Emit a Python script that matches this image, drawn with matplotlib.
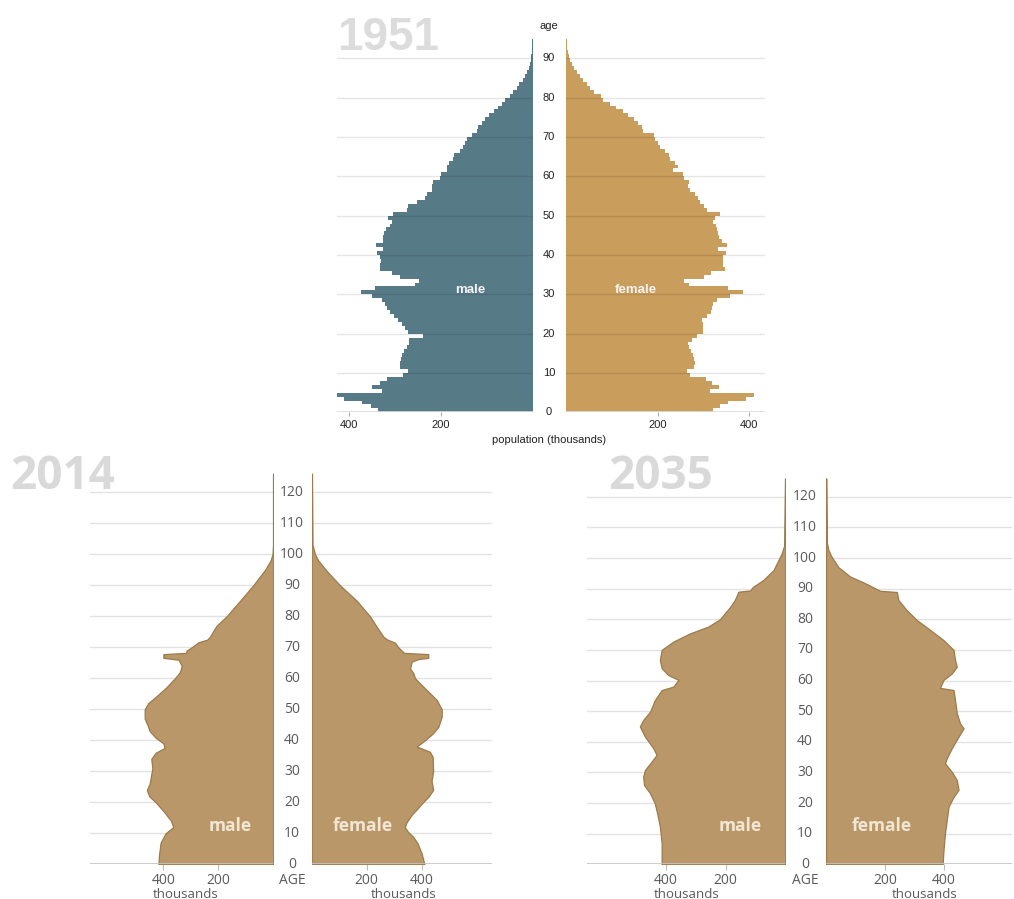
import matplotlib
matplotlib.use("Agg")
import matplotlib.pyplot as plt
from matplotlib.transforms import blended_transform_factory as btf

# ---------------- data ----------------
# 1951, single-year ages (thousands)
male_1951 = [338, 353, 373, 411, 429, 329, 351, 333, 317, 282,
             273, 289, 289, 288, 286, 281, 275, 269, 269, 239,
             271, 279, 286, 293, 303, 311, 317, 322, 329, 351,
             375, 344, 257, 247, 289, 308, 333, 333, 332, 333,
             340, 327, 342, 326, 326, 324, 320, 311, 308, 315,
             305, 275, 273, 253, 235, 231, 220, 220, 218, 202,
             199, 188, 188, 182, 173, 171, 159, 153, 148, 144,
             133, 122, 119, 111, 104, 95, 84, 75, 68, 60,
             49, 44, 35, 29, 22, 17, 12, 8, 6, 4,
             3, 2, 1.5, 1, 0.7, 0.4]
female_1951 = [321, 336, 354, 393, 409, 314, 334, 319, 305, 271,
               263, 279, 282, 279, 276, 273, 268, 267, 274, 285,
               298, 298, 298, 297, 307, 316, 318, 321, 329, 358,
               385, 353, 268, 257, 300, 316, 347, 343, 342, 342,
               348, 332, 352, 340, 334, 332, 329, 327, 321, 325,
               336, 307, 300, 292, 287, 281, 271, 267, 269, 257,
               256, 234, 244, 238, 227, 225, 216, 205, 201, 194,
               191, 169, 165, 158, 149, 136, 125, 109, 96, 81,
               76, 60, 52, 45, 38, 31, 23, 17, 12, 9,
               7, 4, 3, 2, 1.5, 1, 0.7, 0.5, 0.3, 0.2]

# 2014 (outline points)
m2014_age = [0, 3, 7, 10, 12, 14, 17, 20, 22, 24, 26, 29, 31, 34, 36, 37.5, 39, 41, 43,
             45, 47, 50, 52, 54, 57, 60, 62, 64, 66, 66.6, 67.8, 68.2, 69, 70, 71.6,
             72.5, 73.5, 75, 77, 80, 85, 90, 95, 98, 100, 103, 126]
m2014_val = [418, 416, 410, 392, 364, 372, 398, 428, 452, 460, 450, 444, 440, 444, 428, 396,
             400, 430, 450, 458, 468, 468, 455, 428, 390, 358, 340, 333, 345, 400, 400, 318,
             315, 297, 273, 240, 230, 220, 206, 170, 121, 73, 30, 10, 3, 1, 1]
f2014_age = [0, 3.5, 6.8, 9, 10.5, 12, 13.5, 16, 18, 20, 21.8, 24, 27, 30, 34.7, 36.3, 38,
             40, 42.3, 44.4, 47.6, 50, 53, 55.2, 57.3, 60, 61.6, 63.2, 65.4, 66.2, 66.6,
             67.8, 68.2, 70, 71.5, 72.5, 73.4, 76.7, 80, 85, 90, 94, 96, 98, 100, 103, 126]
f2014_val = [410, 400, 385, 368, 350, 339, 345, 364, 385, 405, 425, 442, 436, 442, 440, 430,
             382, 412, 442, 461, 473, 473, 455, 430, 406, 376, 370, 358, 364, 388, 424,
             424, 336, 315, 303, 275, 261, 236, 212, 164, 103, 61, 42, 24, 12, 3, 1]

# 2035 projection
m2035_age = [0, 6.9, 12.3, 16.6, 19.9, 23.2, 25.9, 28.6, 30.8, 33.5, 35.7, 37.9, 41.7, 45,
             47.1, 49.8, 53.6, 56.9, 58, 60.2, 61.8, 64, 66.7, 70, 72.7, 75.4, 77.6, 80,
             84, 86.3, 89, 89.4, 90.6, 92.8, 96, 99.3, 101.5, 104, 126]
m2035_val = [414, 414, 420, 429, 437, 453, 473, 476, 470, 448, 431, 442, 470, 487,
             476, 453, 437, 414, 375, 358, 392, 414, 420, 414, 375, 319, 258, 219,
             185, 169, 157, 118, 108, 74, 40, 23, 12, 4, 1]
f2035_age = [0, 4.7, 10.1, 14.5, 18.8, 22, 24.3, 27.5, 30.2, 33, 34.6, 37.9, 41.7, 44.4,
             46, 49.3, 53.6, 56.9, 57.6, 60.2, 62.3, 64.5, 66.7, 70, 73.2, 76.5, 79.8,
             83, 86.3, 88.9, 89.3, 91.8, 94, 97, 100.4, 102.6, 105, 126]
f2035_val = [395, 398, 403, 409, 415, 432, 449, 443, 426, 403, 409, 426, 449, 466,
             454, 443, 437, 432, 386, 398, 426, 443, 437, 432, 398, 353, 307,
             273, 245, 240, 183, 132, 81, 42, 19, 8, 3, 1]

ages_1951_ticks = list(range(0, 100, 10))
ages_modern_ticks = list(range(0, 130, 10))

# ---------------- layout helpers ----------------
W, H = 1014, 899
fig = plt.figure(figsize=(W / 100, H / 100), dpi=100)


def rect(x0, x1, ytop, ybot):
    return [x0 / W, 1 - ybot / H, (x1 - x0) / W, (ybot - ytop) / H]


def ftext(x, y, s, **kw):
    fig.text(x / W, 1 - y / H, s, **kw)


ARIAL = "Liberation Sans"
OPEN = "Open Sans"

# ---------------- 1951 ----------------
c_m51 = "#577a87"
c_f51 = "#c99d5c"
y0_51, ppy_51 = 412.3, 3.933
ytop_51 = y0_51 - 100 * ppy_51

ax_m51 = fig.add_axes(rect(337, 532.7, ytop_51, y0_51))
ax_f51 = fig.add_axes(rect(566, 765, ytop_51, y0_51))

ax_m51.barh(range(len(male_1951)), male_1951, height=1.0, align="edge",
            color=c_m51, linewidth=0, zorder=2)
ax_f51.barh(range(len(female_1951)), female_1951, height=1.0, align="edge",
            color=c_f51, linewidth=0, zorder=2)

ax_m51.set_xlim(427, 0)
ax_f51.set_xlim(0, 434)
for ax, ticks in ((ax_m51, [400, 200]), (ax_f51, [200, 400])):
    ax.set_ylim(0, 100)
    for a in ages_1951_ticks[1:]:
        ax.axhline(a, color="black", alpha=0.1, lw=1, zorder=3)
    ax.axhline(0, color="#dddddd", lw=1.2, zorder=3)
    for s in ax.spines.values():
        s.set_visible(False)
    ax.set_yticks([])
    ax.set_xticks(ticks)
    ax.set_xticklabels([str(t) for t in ticks], fontfamily=ARIAL)
    ax.tick_params(axis="x", length=3, width=0.8, color="#aaaaaa", labelsize=8,
                   labelcolor="#222222", pad=2.5)
    ax.set_facecolor("none")

tr51 = btf(fig.transFigure, ax_f51.transData)
for a in ages_1951_ticks:
    fig.text(549 / W, a, str(a), transform=tr51, ha="center", va="center",
             fontsize=8, color="#222222", fontfamily=ARIAL)
ftext(549, 26, "age", ha="center", va="center", fontsize=8, color="#222222",
      fontfamily=ARIAL)
ftext(549, 440, "population (thousands)", ha="center", va="center", fontsize=8,
      color="#222222", fontfamily=ARIAL)
ax_m51.text(137, 31, "male", ha="center", va="center", fontsize=9.5, color="#f4f4f4",
            fontweight="bold", fontfamily=ARIAL, zorder=4)
ax_f51.text(153, 31, "female", ha="center", va="center", fontsize=9.5, color="#f4f4f4",
            fontweight="bold", fontfamily=ARIAL, zorder=4)
ftext(388, 38, "1951", ha="center", va="center", fontsize=33, fontweight="bold",
      color="#dcdcdc", fontfamily=ARIAL)

# ---------------- 2014 and 2035 ----------------
c_fill = "#b99768"
c_edge = "#9c7b4b"
grid_c = "#e2e2e2"


def modern(xm0, xm1, xmax_m, xf0, xf1, xmax_f, ppy, mage, mval, fage, fval,
           label_x, title, title_x, lab_m, lab_f, thous_m, thous_f):
    y0 = 864.3
    ytop = y0 - 127 * ppy
    axm = fig.add_axes(rect(xm0, xm1, ytop, y0))
    axf = fig.add_axes(rect(xf0, xf1, ytop, y0))
    axm.fill_betweenx(mage, 0, mval, facecolor=c_fill, edgecolor=c_edge, lw=0.9, zorder=2)
    axf.fill_betweenx(fage, 0, fval, facecolor=c_fill, edgecolor=c_edge, lw=0.9, zorder=2)
    axm.set_xlim(xmax_m, 0)
    axf.set_xlim(0, xmax_f)
    for ax, ticks in ((axm, [400, 200]), (axf, [200, 400])):
        ax.set_ylim(0, 127)
        for a in ages_modern_ticks[1:]:
            ax.axhline(a, color=grid_c, lw=1, zorder=1)
        ax.axhline(0, color="#c4c4c4", lw=1.2, zorder=3)
        for s in ax.spines.values():
            s.set_visible(False)
        ax.set_yticks([])
        ax.set_xticks(ticks)
        ax.set_xticklabels([str(t) for t in ticks], fontfamily=OPEN)
        ax.tick_params(axis="x", length=4, width=0.8, color="#bbbbbb", labelsize=10,
                       labelcolor="#5a5a5a", pad=2.5)
        ax.set_facecolor("none")
    tr = btf(fig.transFigure, axf.transData)
    for a in ages_modern_ticks:
        fig.text(label_x / W, a, str(a), transform=tr, ha="center", va="center",
                 fontsize=10, color="#5a5a5a", fontfamily=OPEN)
    ftext(label_x, 881, "AGE", ha="center", va="center", fontsize=10, color="#5a5a5a",
          fontfamily=OPEN)
    ftext(thous_m, 894, "thousands", ha="center", va="center", fontsize=9.5,
          color="#5a5a5a", fontfamily=OPEN)
    ftext(thous_f, 894, "thousands", ha="center", va="center", fontsize=9.5,
          color="#5a5a5a", fontfamily=OPEN)
    ftext(lab_m, 826, "male", ha="center", va="center", fontsize=12.5, fontweight="bold",
          color="#f1e6d3", fontfamily=OPEN, zorder=5)
    ftext(lab_f, 826, "female", ha="center", va="center", fontsize=12.5, fontweight="bold",
          color="#f1e6d3", fontfamily=OPEN, zorder=5)
    ftext(title_x, 477, title, ha="center", va="center", fontsize=33, fontweight="bold",
          color="#d9d9d9", fontfamily=OPEN)


modern(90, 273.3, 667, 311.7, 491.7, 655, 3.1, m2014_age, m2014_val, f2014_age, f2014_val,
       292, "2014", 63, 230.5, 362.5, 186, 404)
modern(586.7, 785.3, 665, 826, 1012, 630, 3.063, m2035_age, m2035_val, f2035_age, f2035_val,
       805, "2035", 661, 739.7, 881.5, 687, 925)

fig.savefig("out.png", dpi=100)
